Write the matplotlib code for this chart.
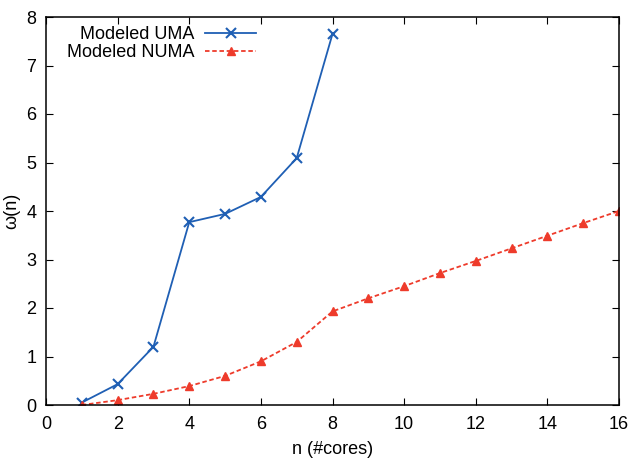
import matplotlib
matplotlib.use('Agg')
import matplotlib.pyplot as plt

plt.rcParams['font.family'] = ['Liberation Sans', 'DejaVu Sans']

cores_uma = [1, 2, 3, 4, 5, 6, 7, 8]
omega_uma = [0.05, 0.43, 1.2, 3.77, 3.94, 4.29, 5.09, 7.65]

cores_numa = list(range(1, 17))
omega_numa = [0.0, 0.1, 0.23, 0.39, 0.6, 0.9, 1.3, 1.93,
              2.2, 2.45, 2.72, 2.97, 3.23, 3.49, 3.75, 4.0]

xticks = [0, 2, 4, 6, 8, 10, 12, 14, 16]
yticks = [0, 1, 2, 3, 4, 5, 6, 7, 8]

W, H = 633, 462
fig = plt.figure(figsize=(W / 100, H / 100), dpi=100)
ax = fig.add_axes([46 / W, 1 - 405 / H, 573 / W, 388 / H])

ax.plot(cores_uma, omega_uma, color='#1f5fb4', lw=1.3, marker='x',
        ms=7, mew=1.5, label='Modeled UMA')
ax.plot(cores_numa, omega_numa, color='#ee3b2b', lw=1.3, ls=(0, (2.5, 1.5)),
        marker='^', ms=5.5, label='Modeled NUMA')

ax.set_xlim(0, 16)
ax.set_ylim(0, 8)
ax.set_xticks(xticks)
ax.set_yticks(yticks)
ax.tick_params(direction='in', top=True, right=True, length=5,
               labelsize=13, pad=7)
ax.tick_params(axis='x', pad=8)
for sp in ax.spines.values():
    sp.set_linewidth(1.1)
ax.set_xlabel('n (#cores)', fontsize=13, labelpad=6)
ax.set_ylabel('ω(n)', fontsize=13, labelpad=4)

ax.legend(loc='upper right', bbox_to_anchor=(256 / W, 1 - 26 / H),
          bbox_transform=fig.transFigure, markerfirst=False, frameon=False,
          fontsize=13, handlelength=2.8, borderpad=0, borderaxespad=0,
          labelspacing=0.05, handletextpad=0.6)

fig.savefig('out.png', dpi=100)
